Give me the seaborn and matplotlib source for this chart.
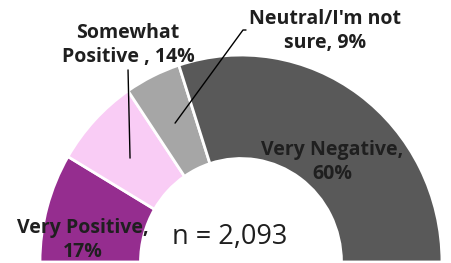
import matplotlib
matplotlib.use("Agg")
import matplotlib.pyplot as plt
import seaborn as sns

categories = ["Very Positive", "Somewhat Positive", "Neutral/I'm not sure", "Very Negative"]
shares = [17, 14, 9, 60]
labels = ["Very Positive,\n17%", "Somewhat\nPositive , 14%", "Neutral/I'm not\nsure, 9%", "Very Negative,\n60%"]
colors = ["#952d8f", "#f9ccf5", "#a6a6a6", "#595959"]
n_text = "n = 2,093"

sns.set_style("white")
plt.rcParams['font.family'] = ['Open Sans', 'DejaVu Sans']

fig = plt.figure(figsize=(4.51, 2.63), dpi=100)
ax = fig.add_axes([0, 0, 1, 1])

# half donut: pad with an invisible wedge equal to the total
wedges, _ = ax.pie(shares + [sum(shares)], colors=colors + ["white"],
                   startangle=180, counterclock=False, radius=1,
                   wedgeprops=dict(width=0.5, edgecolor="white", linewidth=2))
wedges[-1].set_visible(False)

ax.set_aspect("auto")
ax.set_xlim(-1.199, 1.045)
ax.set_ylim(-0.005, 1.266)
ax.axis("off")

txt = dict(ha="center", va="center", fontsize=14, fontweight="bold", color="#1f1f1f",
           linespacing=1.22)
ax.text(-0.786, 0.106, labels[0], **txt)
ax.text(-0.562, 1.048, labels[1], **txt)
ax.text(0.418, 1.116, labels[2], **txt)
ax.text(0.453, 0.483, labels[3], **txt)

# leader lines
ax.plot([-0.562, -0.552], [0.928, 0.502], color="black", lw=1)
ax.plot([-0.328, 0.010, 0.025], [0.671, 1.121, 1.121], color="black", lw=1)

ax.text(-0.055, 0.121, n_text, ha="center", va="center", fontsize=19.5, color="#1f1f1f")

fig.savefig("out.png", dpi=100)
